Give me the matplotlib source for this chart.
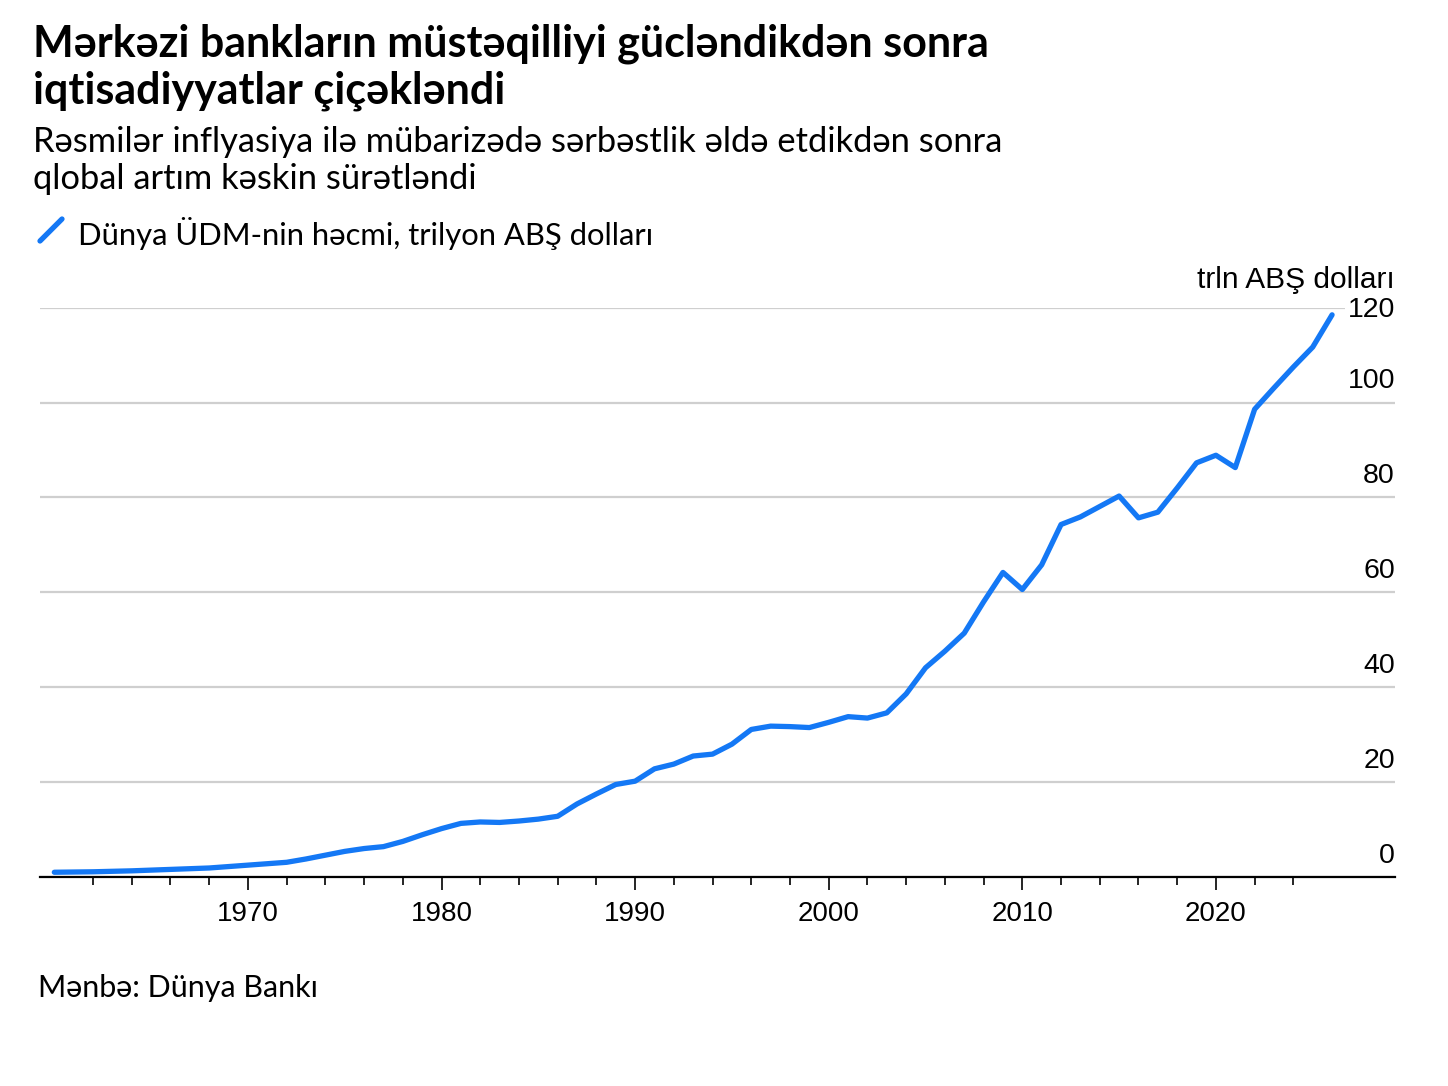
import matplotlib
matplotlib.use("Agg")
import matplotlib.pyplot as plt
import matplotlib.transforms as mtransforms
import numpy as np

# ---------------- data ----------------
years = list(range(1960, 2027))
gdp = [1.0, 1.05, 1.1, 1.2, 1.3, 1.45, 1.6, 1.75, 1.9, 2.2,
       2.5, 2.8, 3.1, 3.8, 4.6, 5.4, 6.0, 6.4, 7.5, 8.9,
       10.2, 11.3, 11.6, 11.5, 11.8, 12.2, 12.8, 15.4, 17.5, 19.5,
       20.2, 22.8, 23.8, 25.5, 25.9, 28.0, 31.1, 31.8, 31.7, 31.5,
       32.6, 33.8, 33.5, 34.6, 38.6, 44.1, 47.6, 51.4, 58.0, 64.2,
       60.6, 65.8, 74.3, 75.9, 78.1, 80.3, 75.7, 76.9, 82.0, 87.3,
       88.9, 86.3, 98.6, 103.1, 107.5, 111.7, 118.5]
y_ticks = [0, 20, 40, 60, 80, 100, 120]
x_major = [1970, 1980, 1990, 2000, 2010, 2020]
x_minor = [y for y in range(1962, 2025, 2) if y % 10 != 0]

title = "Mərkəzi bankların müstəqilliyi gücləndikdən sonra\niqtisadiyyatlar çiçəkləndi"
subtitle = "Rəsmilər inflyasiya ilə mübarizədə sərbəstlik əldə etdikdən sonra\nqlobal artım kəskin sürətləndi"
legend_label = "Dünya ÜDM-nin həcmi, trilyon ABŞ dolları"
unit_label = "trln ABŞ dolları"
source = "Mənbə: Dünya Bankı"

BLUE = "#1478F5"
W, H = 1448, 1086
SANS = ["Lato", "DejaVu Sans"]
NUM = ["Liberation Sans", "DejaVu Sans"]

fig = plt.figure(figsize=(W / 100, H / 100), dpi=100)
fig.patch.set_facecolor("white")

def fx(px):
    return px / W

def fy(py):
    return 1 - py / H

ax = fig.add_axes([fx(40), 209 / H, (1395 - 40) / W, (877 - 307.7) / H])
ax.plot(years, gdp, color=BLUE, lw=3.8, solid_capstyle="round",
        solid_joinstyle="round", zorder=3, clip_on=False)
ax.set_xlim(1959.26, 2029.25)
ax.set_ylim(0, 120)

for s in ["top", "left", "right"]:
    ax.spines[s].set_visible(False)
ax.spines["bottom"].set_linewidth(1.6)
ax.spines["bottom"].set_color("black")
ax.spines["bottom"].set_zorder(4)

ax.set_yticks(y_ticks)
ax.yaxis.grid(True, color="#cfcfcf", lw=1.6)
ax.set_axisbelow(True)
ax.tick_params(axis="y", length=0, labelleft=False)

ax.set_xticks(x_major)
ax.set_xticks(x_minor, minor=True)
ax.set_xticklabels([str(v) for v in x_major])
ax.tick_params(axis="x", which="major", length=9, width=1.2, color="black",
               pad=8, labelsize=20)
ax.tick_params(axis="x", which="minor", length=6, width=1.2, color="black")
for lab in ax.get_xticklabels():
    lab.set_family(NUM)

# right-side y labels sitting above gridlines
trans = mtransforms.offset_copy(ax.get_yaxis_transform(), fig=fig, x=0, y=6, units="points")
for v in y_ticks:
    if v == 120:
        ax.text(1.0, v, str(v), transform=mtransforms.offset_copy(
                    ax.get_yaxis_transform(), fig=fig, x=0, y=-2, units="points"),
                ha="right", va="center", fontsize=20.5, family=NUM,
                bbox=dict(facecolor="white", edgecolor="none", pad=2))
    else:
        ax.text(1.0, v, str(v), transform=trans, ha="right", va="bottom",
                fontsize=20.5, family=NUM)

fig.text(fx(1395), fy(280), unit_label, ha="right", va="center", fontsize=21.5, family=NUM)

# titles
fig.text(fx(33), fy(24), title, ha="left", va="top", fontsize=31, fontweight="bold",
         family=SANS, linespacing=1.17)
fig.text(fx(33), fy(126), subtitle, ha="left", va="top", fontsize=24.8,
         family=SANS, linespacing=1.2)

# legend
fig.add_artist(plt.Line2D([fx(40), fx(62)], [fy(241), fy(219)], color=BLUE, lw=3.8,
                          solid_capstyle="round"))
fig.text(fx(78), fy(233), legend_label, ha="left", va="center", fontsize=22.3, family=SANS)

fig.text(fx(38), fy(988), source, ha="left", va="center", fontsize=22, family=SANS)

fig.savefig("out.png", dpi=100, facecolor="white")
